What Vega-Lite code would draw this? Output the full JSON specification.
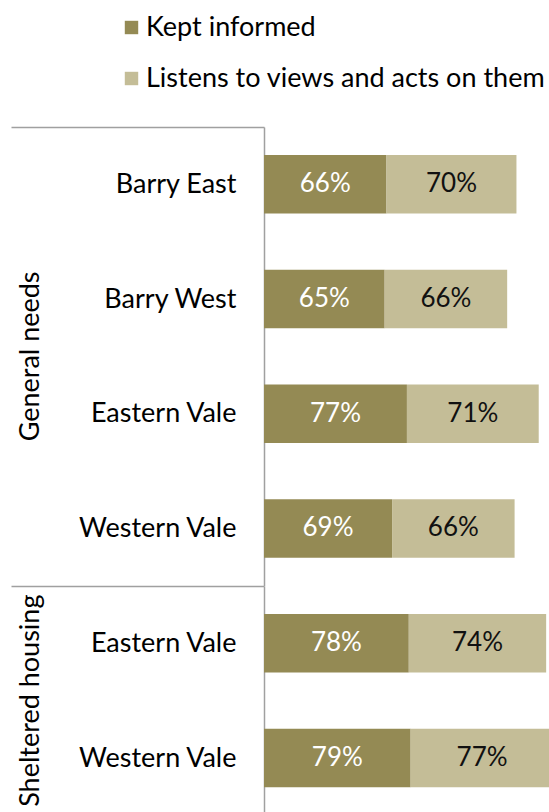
{
  "$schema": "https://vega.github.io/schema/vega-lite/v6.json",
  "background": "white",
  "padding": {"left": 10, "top": 14, "right": 0, "bottom": 0},
  "bounds": "flush",
  "config": {
    "font": "Lato",
    "view": {"stroke": null},
    "legend": {"labelFont": "Lato"},
    "axis": {"labelFont": "Lato"}
  },
  "data": {
    "values": [
      {"group": "General needs", "key": "Barry East|GN", "measure": "Kept informed", "value": 0.66},
      {"group": "General needs", "key": "Barry East|GN", "measure": "Listens to views and acts on them", "value": 0.70},
      {"group": "General needs", "key": "Barry West|GN", "measure": "Kept informed", "value": 0.65},
      {"group": "General needs", "key": "Barry West|GN", "measure": "Listens to views and acts on them", "value": 0.66},
      {"group": "General needs", "key": "Eastern Vale|GN", "measure": "Kept informed", "value": 0.77},
      {"group": "General needs", "key": "Eastern Vale|GN", "measure": "Listens to views and acts on them", "value": 0.71},
      {"group": "General needs", "key": "Western Vale|GN", "measure": "Kept informed", "value": 0.69},
      {"group": "General needs", "key": "Western Vale|GN", "measure": "Listens to views and acts on them", "value": 0.66},
      {"group": "Sheltered housing", "key": "Eastern Vale|SH", "measure": "Kept informed", "value": 0.78},
      {"group": "Sheltered housing", "key": "Eastern Vale|SH", "measure": "Listens to views and acts on them", "value": 0.74},
      {"group": "Sheltered housing", "key": "Western Vale|SH", "measure": "Kept informed", "value": 0.79},
      {"group": "Sheltered housing", "key": "Western Vale|SH", "measure": "Listens to views and acts on them", "value": 0.77}
    ]
  },
  "facet": {
    "row": {
      "field": "group",
      "type": "nominal",
      "sort": ["General needs", "Sheltered housing"],
      "header": {
        "title": null,
        "labelOrient": "left",
        "labelAngle": -90,
        "labelFont": "Lato",
        "labelFontSize": 27,
        "labelColor": "#000000",
        "labelPadding": 206
      }
    }
  },
  "spacing": 0,
  "resolve": {"scale": {"y": "independent"}},
  "spec": {
    "width": 297,
    "height": {"step": 114.7},
    "encoding": {
      "y": {
        "field": "key",
        "type": "nominal",
        "sort": ["Barry East|GN", "Barry West|GN", "Eastern Vale|GN", "Western Vale|GN", "Eastern Vale|SH", "Western Vale|SH"],
        "scale": {"paddingInner": 0, "paddingOuter": 0},
        "axis": {
          "title": null,
          "domain": true,
          "domainColor": "#a0a0a0",
          "domainWidth": 1.5,
          "labelExpr": "split(datum.label, '|')[0]",
          "labelFontSize": 27,
          "labelColor": "#000000",
          "tickBand": "extent",
          "tickSize": 253,
          "tickWidth": 1.5,
          "tickColor": {"condition": {"test": "!datum.value", "value": "#a0a0a0"}, "value": "transparent"},
          "labelPadding": -225
        }
      },
      "order": {"field": "measure", "type": "nominal", "sort": "ascending"}
    },
    "layer": [
      {
        "mark": {"type": "bar", "height": {"band": 0.51}},
        "encoding": {
          "x": {
            "field": "value",
            "type": "quantitative",
            "stack": "zero",
            "scale": {"domain": [0, 1.6]},
            "axis": null
          },
          "color": {
            "field": "measure",
            "type": "nominal",
            "scale": {"domain": ["Kept informed", "Listens to views and acts on them"], "range": ["#948a54", "#c4bd97"]},
            "legend": {
              "title": null,
              "orient": "none",
              "legendX": -146,
              "legendY": -113,
              "direction": "vertical",
              "symbolType": "square",
              "symbolSize": 180,
              "symbolStrokeWidth": 0,
              "labelFontSize": 27,
              "labelColor": "#000000",
              "labelOffset": 1,
              "rowPadding": 23,
              "labelLimit": 500
            }
          }
        }
      },
      {
        "mark": {"type": "text", "fontSize": 26, "align": "center", "baseline": "middle"},
        "encoding": {
          "x": {
            "field": "value",
            "type": "quantitative",
            "stack": "zero",
            "bandPosition": 0.5,
            "scale": {"domain": [0, 1.6]},
            "axis": null
          },
          "detail": {"field": "measure", "type": "nominal"},
          "text": {"field": "value", "type": "quantitative", "format": ".0%"},
          "color": {"condition": {"test": "datum.measure == 'Kept informed'", "value": "#ffffff"}, "value": "#111111"}
        }
      }
    ]
  }
}
